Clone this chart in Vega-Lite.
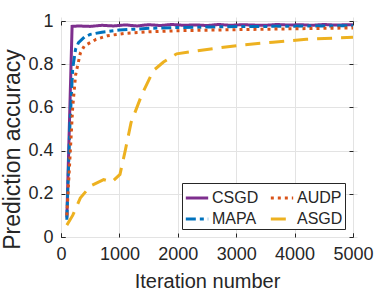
{
  "$schema": "https://vega.github.io/schema/vega-lite/v6.json",
  "width": 292,
  "height": 216,
  "autosize": {"type": "none"},
  "padding": {"left": 61, "top": 21, "right": 37, "bottom": 56},
  "background": "white",
  "config": {
    "font": "Liberation Sans",
    "view": {"stroke": "#262626", "strokeWidth": 1},
    "axis": {
      "domain": false,
      "gridColor": "#e3e3e3",
      "gridWidth": 1,
      "tickColor": "#262626",
      "tickSize": 4,
      "offset": -4,
      "labelColor": "#262626",
      "titleColor": "#262626",
      "labelFont": "Liberation Sans",
      "titleFont": "Liberation Sans",
      "labelFontSize": 18,
      "titleFontWeight": "normal"
    },
    "legend": {
      "orient": "bottom-right",
      "offset": 8,
      "columns": 2,
      "strokeColor": "#262626",
      "fillColor": "white",
      "padding": 2,
      "labelFontSize": 16,
      "labelColor": "#262626",
      "labelFont": "Liberation Sans",
      "symbolType": "stroke",
      "symbolSize": 500,
      "symbolStrokeWidth": 3,
      "rowPadding": 0,
      "columnPadding": 5,
      "labelOffset": 2
    }
  },
  "data": {
    "values": [
      {"method": "CSGD", "it": 100, "acc": 0.09},
      {"method": "CSGD", "it": 190, "acc": 0.975},
      {"method": "CSGD", "it": 300, "acc": 0.977},
      {"method": "CSGD", "it": 500, "acc": 0.975},
      {"method": "CSGD", "it": 700, "acc": 0.98},
      {"method": "CSGD", "it": 900, "acc": 0.977},
      {"method": "CSGD", "it": 1100, "acc": 0.982},
      {"method": "CSGD", "it": 1300, "acc": 0.977},
      {"method": "CSGD", "it": 1500, "acc": 0.983},
      {"method": "CSGD", "it": 1700, "acc": 0.979},
      {"method": "CSGD", "it": 1900, "acc": 0.984},
      {"method": "CSGD", "it": 2100, "acc": 0.98},
      {"method": "CSGD", "it": 2300, "acc": 0.982},
      {"method": "CSGD", "it": 2500, "acc": 0.979},
      {"method": "CSGD", "it": 2700, "acc": 0.984},
      {"method": "CSGD", "it": 2900, "acc": 0.98},
      {"method": "CSGD", "it": 3100, "acc": 0.983},
      {"method": "CSGD", "it": 3300, "acc": 0.981},
      {"method": "CSGD", "it": 3500, "acc": 0.98},
      {"method": "CSGD", "it": 3700, "acc": 0.984},
      {"method": "CSGD", "it": 3900, "acc": 0.981},
      {"method": "CSGD", "it": 4100, "acc": 0.983},
      {"method": "CSGD", "it": 4300, "acc": 0.98},
      {"method": "CSGD", "it": 4500, "acc": 0.984},
      {"method": "CSGD", "it": 4700, "acc": 0.981},
      {"method": "CSGD", "it": 4900, "acc": 0.983},
      {"method": "CSGD", "it": 5000, "acc": 0.982},
      {"method": "MAPA", "it": 100, "acc": 0.08},
      {"method": "MAPA", "it": 150, "acc": 0.5},
      {"method": "MAPA", "it": 200, "acc": 0.78},
      {"method": "MAPA", "it": 250, "acc": 0.87},
      {"method": "MAPA", "it": 300, "acc": 0.9},
      {"method": "MAPA", "it": 400, "acc": 0.925},
      {"method": "MAPA", "it": 500, "acc": 0.938},
      {"method": "MAPA", "it": 700, "acc": 0.948},
      {"method": "MAPA", "it": 1000, "acc": 0.958},
      {"method": "MAPA", "it": 1500, "acc": 0.966},
      {"method": "MAPA", "it": 2000, "acc": 0.97},
      {"method": "MAPA", "it": 3000, "acc": 0.974},
      {"method": "MAPA", "it": 4000, "acc": 0.976},
      {"method": "MAPA", "it": 5000, "acc": 0.978},
      {"method": "AUDP", "it": 100, "acc": 0.1},
      {"method": "AUDP", "it": 150, "acc": 0.35},
      {"method": "AUDP", "it": 200, "acc": 0.6},
      {"method": "AUDP", "it": 250, "acc": 0.75},
      {"method": "AUDP", "it": 330, "acc": 0.85},
      {"method": "AUDP", "it": 400, "acc": 0.885},
      {"method": "AUDP", "it": 600, "acc": 0.915},
      {"method": "AUDP", "it": 800, "acc": 0.932},
      {"method": "AUDP", "it": 1100, "acc": 0.943},
      {"method": "AUDP", "it": 1500, "acc": 0.95},
      {"method": "AUDP", "it": 2000, "acc": 0.955},
      {"method": "AUDP", "it": 3000, "acc": 0.96},
      {"method": "AUDP", "it": 4000, "acc": 0.964},
      {"method": "AUDP", "it": 5000, "acc": 0.968},
      {"method": "ASGD", "it": 100, "acc": 0.055},
      {"method": "ASGD", "it": 200, "acc": 0.1},
      {"method": "ASGD", "it": 330, "acc": 0.18},
      {"method": "ASGD", "it": 500, "acc": 0.235},
      {"method": "ASGD", "it": 730, "acc": 0.266},
      {"method": "ASGD", "it": 870, "acc": 0.255},
      {"method": "ASGD", "it": 1010, "acc": 0.29},
      {"method": "ASGD", "it": 1100, "acc": 0.4},
      {"method": "ASGD", "it": 1200, "acc": 0.53},
      {"method": "ASGD", "it": 1385, "acc": 0.66},
      {"method": "ASGD", "it": 1580, "acc": 0.77},
      {"method": "ASGD", "it": 1755, "acc": 0.81},
      {"method": "ASGD", "it": 1980, "acc": 0.848},
      {"method": "ASGD", "it": 2500, "acc": 0.868},
      {"method": "ASGD", "it": 3065, "acc": 0.888},
      {"method": "ASGD", "it": 3630, "acc": 0.902},
      {"method": "ASGD", "it": 4200, "acc": 0.915},
      {"method": "ASGD", "it": 5000, "acc": 0.925}
    ]
  },
  "layer": [
    {
      "mark": {"type": "line", "strokeWidth": 3, "clip": true},
      "encoding": {
        "x": {
          "field": "it", "type": "quantitative",
          "scale": {"domain": [0, 5000], "nice": false},
          "axis": {"values": [0, 1000, 2000, 3000, 4000, 5000], "format": "d", "title": "Iteration number", "titleFontSize": 20, "titlePadding": 8, "labelPadding": 8, "labelFlush": false}
        },
        "y": {
          "field": "acc", "type": "quantitative",
          "scale": {"domain": [0, 1], "nice": false},
          "axis": {"values": [0, 0.2, 0.4, 0.6, 0.8, 1], "format": "~g", "title": "Prediction accuracy", "titleFontSize": 23, "titlePadding": 3, "titleY": 128, "labelPadding": 8, "labelFlush": false}
        },
        "color": {
          "field": "method", "type": "nominal",
          "scale": {"domain": ["CSGD", "MAPA", "AUDP", "ASGD"], "range": ["#7E2F8E", "#0072BD", "#D95319", "#EDB120"]},
          "legend": {"title": null}
        },
        "strokeDash": {
          "field": "method", "type": "nominal",
          "scale": {"domain": ["CSGD", "MAPA", "AUDP", "ASGD"], "range": [[1, 0], [10, 4, 4, 4], [3, 4], [15, 9]]},
          "legend": {"title": null}
        }
      }
    },
    {
      "mark": {"type": "point", "opacity": 0},
      "encoding": {
        "x": {
          "field": "it", "type": "quantitative",
          "axis": {"orient": "top", "values": [0, 1000, 2000, 3000, 4000, 5000], "labels": false, "grid": false, "title": null}
        },
        "y": {
          "field": "acc", "type": "quantitative",
          "axis": {"orient": "right", "values": [0, 0.2, 0.4, 0.6, 0.8, 1], "labels": false, "grid": false, "title": null}
        }
      }
    }
  ],
  "resolve": {"axis": {"x": "independent", "y": "independent"}}
}
